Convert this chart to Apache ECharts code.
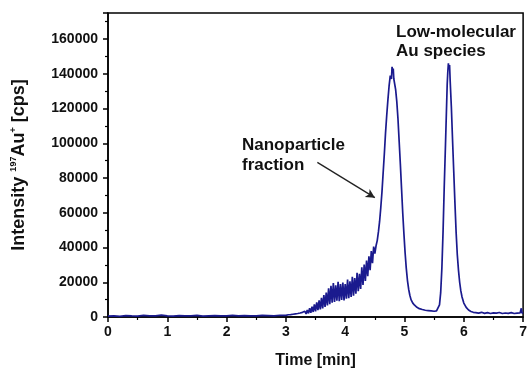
<!DOCTYPE html>
<html>
<head>
<meta charset="utf-8">
<script src="https://cdn.jsdelivr.net/npm/echarts@6/dist/echarts.min.js"></script>
<style>html,body{margin:0;padding:0;background:#fff;}#c{width:530px;height:374px;}</style>
</head>
<body>
<div id="c"></div>
<script>
// Baseline segment 0 - 3.0 min (step 0.1)
const baseTime = [0,0.1,0.2,0.3,0.4,0.5,0.6,0.7,0.8,0.9,1.0,1.1,1.2,1.3,1.4,1.5,1.6,1.7,1.8,1.9,2.0,2.1,2.2,2.3,2.4,2.5,2.6,2.7,2.8,2.9,3.0];
const baseVal  = [500,700,400,800,600,500,900,600,700,1100,600,500,800,700,600,900,500,700,800,600,700,900,600,800,700,600,900,800,700,1000,900];

// Noisy rise 3.02 - 4.50 min
const riseTime = [3.02,3.04,3.06,3.08,3.10,3.12,3.14,3.16,3.18,3.20,3.22,3.24,3.26,3.28,3.30,3.32,3.34,3.36,3.38,3.40,3.42,3.44,3.46,3.48,3.50,3.52,3.54,3.56,3.58,3.60,3.62,3.64,3.66,3.68,3.70,3.72,3.74,3.76,3.78,3.80,3.82,3.84,3.86,3.88,3.90,3.92,3.94,3.96,3.98,4.00,4.02,4.04,4.06,4.08,4.10,4.12,4.14,4.16,4.18,4.20,4.22,4.24,4.26,4.28,4.30,4.32,4.34,4.36,4.38,4.40,4.42,4.44,4.46,4.48,4.50];
const riseVal  = [900,1300,700,1400,900,1600,1000,1800,1100,2000,1200,2300,1400,2700,1600,3300,1800,4000,2100,5000,2400,6000,2900,7200,3300,8400,3900,9600,4400,11000,5000,12600,5800,14000,6600,16500,7400,18000,8200,19500,8600,18200,9400,20300,9100,19000,9800,19800,9600,19000,10500,21500,10800,20500,11600,23200,12200,22400,13400,25500,14800,24800,16200,28600,18400,30200,20800,32500,23500,35000,27000,38000,31000,40500,36500];

// Nanoparticle peak 4.52 - 5.50 min
const peak1Time = [4.52,4.54,4.56,4.58,4.60,4.62,4.64,4.66,4.68,4.70,4.72,4.74,4.76,4.78,4.79,4.80,4.81,4.82,4.83,4.85,4.87,4.89,4.91,4.93,4.95,4.97,4.99,5.01,5.03,5.05,5.07,5.09,5.11,5.14,5.17,5.21,5.25,5.30,5.35,5.40,5.45,5.50];
const peak1Val  = [41000,44000,49000,55000,63000,72000,83000,94000,106000,116000,125000,133000,139000,137000,144000,141000,143000,137000,138000,131000,124000,114000,101000,88000,74000,60000,48000,37000,28000,21000,16000,12500,10000,8000,6800,5600,4800,4300,3900,3700,3500,3300];

// Low-molecular Au species peak 5.54 - 6.16 min
const peak2Time = [5.54,5.57,5.59,5.61,5.63,5.65,5.67,5.69,5.71,5.72,5.73,5.74,5.75,5.76,5.77,5.79,5.81,5.83,5.85,5.87,5.89,5.91,5.93,5.95,5.97,6.00,6.04,6.08,6.12,6.16];
const peak2Val  = [3500,4500,7000,14000,28000,49000,75000,98000,122000,134000,141000,146000,143000,145000,136000,121000,102000,84000,66000,49000,36000,27000,20000,15000,11500,8000,5500,4000,3200,2700];

// Tail 6.20 - 7.00 min
const tailTime = [6.20,6.25,6.30,6.35,6.40,6.45,6.50,6.55,6.60,6.65,6.70,6.75,6.80,6.85,6.90,6.95,6.97,6.98,7.00];
const tailVal  = [2500,2200,2700,2100,2500,2000,2400,2200,2600,2000,2300,2100,2500,2000,2200,2400,5000,2300,2200];

const xTicks = [0,1,2,3,4,5,6,7];
const yTicks = [0,20000,40000,60000,80000,100000,120000,140000,160000];

const arrowFrom = [3.53, 89000];
const arrowTo = [4.50, 68700];

const time = [].concat(baseTime, riseTime, peak1Time, peak2Time, tailTime);
const intensity = [].concat(baseVal, riseVal, peak1Val, peak2Val, tailVal);
const seriesData = time.map((t, i) => [t, intensity[i]]);

const FONT = 'Liberation Sans, Arial, sans-serif';
const chart = echarts.init(document.getElementById('c'), null, {renderer: 'canvas'});
chart.setOption({
  animation: false,
  backgroundColor: '#fff',
  grid: {left: 108, right: 4, top: 13, bottom: 52, show: true, borderColor: '#000', borderWidth: 1.5, backgroundColor: 'transparent'},
  xAxis: {
    type: 'value', min: xTicks[0], max: xTicks[xTicks.length - 1], interval: 1,
    name: 'Time [min]', nameLocation: 'middle', nameGap: 36,
    nameTextStyle: {fontFamily: FONT, fontWeight: 'bold', fontSize: 16, color: '#111'},
    axisLine: {show: true, onZero: false, lineStyle: {color: '#000', width: 1.5}},
    axisTick: {show: true, inside: false, length: 5, lineStyle: {color: '#000', width: 1.5}},
    minorTick: {show: true, splitNumber: 2, length: 3, lineStyle: {color: '#000', width: 1.2}},
    axisLabel: {fontFamily: FONT, fontWeight: 'bold', fontSize: 14, color: '#111', margin: 8, formatter: v => String(v)},
    splitLine: {show: false}
  },
  yAxis: {
    type: 'value', min: yTicks[0], max: 175000, interval: 20000,
    name: '{a|Intensity }{s|197}{a|Au}{s|+}{a| [cps]}', nameLocation: 'middle', nameGap: 78, nameRotate: 90,
    nameTextStyle: {
      rich: {
        a: {fontFamily: FONT, fontWeight: 'bold', fontSize: 18, color: '#111', lineHeight: 21, verticalAlign: 'middle'},
        s: {fontFamily: FONT, fontWeight: 'bold', fontSize: 9, color: '#111', lineHeight: 10, verticalAlign: 'top'}
      }
    },
    axisLine: {show: true, onZero: false, lineStyle: {color: '#000', width: 1.5}},
    axisTick: {show: true, inside: false, length: 5, lineStyle: {color: '#000', width: 1.5}},
    minorTick: {show: true, splitNumber: 2, length: 3, lineStyle: {color: '#000', width: 1.2}},
    axisLabel: {fontFamily: FONT, fontWeight: 'bold', fontSize: 14, color: '#111', margin: 10, showMaxLabel: false, formatter: v => String(v)},
    splitLine: {show: false}
  },
  series: [{
    type: 'line', data: seriesData, showSymbol: false, symbol: 'none', sampling: null,
    lineStyle: {color: '#1a1a8e', width: 1.7},
    silent: true,
    markLine: {
      silent: true, symbol: ['none', 'arrow'], symbolSize: [7, 9],
      label: {show: false},
      lineStyle: {color: '#222', width: 1.3, type: 'solid'},
      data: [[{coord: arrowFrom}, {coord: arrowTo}]]
    }
  }],
  graphic: [
    {type: 'text', left: 242, top: 135, style: {text: 'Nanoparticle\nfraction', fontFamily: FONT, fontWeight: 'bold', fontSize: 17, lineHeight: 20, fill: '#111'}},
    {type: 'text', left: 396, top: 23, style: {text: 'Low-molecular\nAu species', fontFamily: FONT, fontWeight: 'bold', fontSize: 17, lineHeight: 19, fill: '#111'}}
  ]
});
</script>
</body>
</html>
